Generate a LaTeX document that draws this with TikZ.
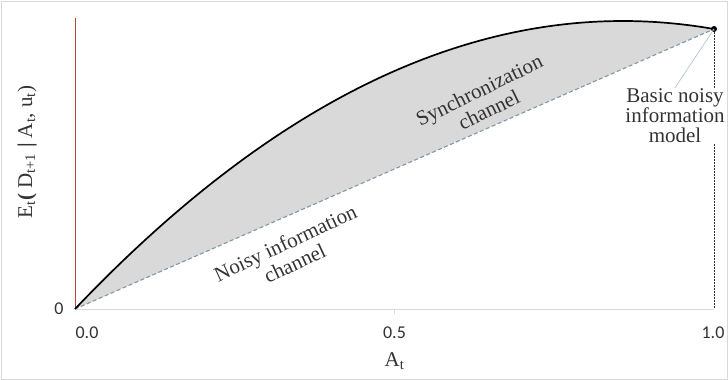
\documentclass[tikz,border=0pt]{standalone}
\usepackage{fontspec}
\setmainfont{Liberation Serif}
\newfontfamily\tickfont{Carlito}
\definecolor{txt}{HTML}{333333}
\definecolor{axisred}{HTML}{B04A35}
\definecolor{fillgray}{HTML}{D9D9D9}
\definecolor{dashblue}{HTML}{7F97A5}
\definecolor{leader}{HTML}{A9C6DA}
\begin{document}
\begin{tikzpicture}[x=1pt,y=-1pt,
  ticklab/.style={font=\tickfont\fontsize{18}{18}\selectfont,text=txt,inner sep=0pt},
  serlab/.style={font=\fontsize{21}{20}\selectfont,text=txt,inner sep=1pt,align=center},
  rotlab/.style={font=\fontsize{21}{22}\selectfont,text=txt,inner sep=1pt,align=center},
  curveline/.style={line width=1.7pt,black},
  noisyline/.style={dashblue,line width=1.1pt,dash pattern=on 4pt off 2.5pt},
  vdash/.style={black!80,line width=0.6pt,dash pattern=on 2pt off 1pt}]
\useasboundingbox (0,0) rectangle (728,380);
\draw[black!15,line width=1pt] (1,1) rectangle (727,379);
\coordinate (o) at (75,309);
\coordinate (ytop) at (75,18);
\coordinate (xend) at (714,309);
\coordinate (xmid) at (394.5,309);
% fill
\fill[fillgray] plot[domain=0:1,samples=80,variable=\t] ({75+639*\t},{309-280*(2.4*\t-1.4*\t*\t)}) -- cycle;
% axes
\draw[black!15,line width=0.8pt] (o) -- (xend);
\draw[black!15,line width=0.6pt] (xmid) -- ++(0,5);
\draw[axisred,line width=1pt] (o) -- (ytop);
% lines
\node[circle,fill=black,inner sep=0pt,minimum size=6pt] (dot) at (714,29) {};
\draw[noisyline] (o) -- (dot.center);
\draw[curveline] plot[domain=0:1,samples=80,variable=\t] ({75+639*\t},{309-280*(2.4*\t-1.4*\t*\t)});
% labels
\node[serlab] (bnim) at (675,116) {Basic noisy\\information\\model};
\draw[leader,line width=0.7pt] (dot.center) -- (bnim.north);
\draw[vdash] (dot.center) -- (dot |- bnim.north);
\draw[vdash] (dot |- bnim.south) -- (xend);
\node[rotlab,rotate=26] (sync) at (484,100) {Synchronization\\channel};
\node[rotlab,rotate=25] (noisy) at (290,253) {Noisy information\\channel};
\node[ticklab] (t0) at (87,333) {0.0};
\node[ticklab] (t5) at (394.5,333) {0.5};
\node[ticklab] (t1) at (713,333) {1.0};
\node[ticklab] (y0) at (59,309) {0};
\node[serlab] (xl) at (394.5,361) {A\textsubscript{t}};
\node[serlab,rotate=90] (yl) at (27,152) {E\textsubscript{t}{\bfseries(} D\textsubscript{t+1} {\bfseries|} A\textsubscript{t}, u\textsubscript{t})};
\end{tikzpicture}
\end{document}
